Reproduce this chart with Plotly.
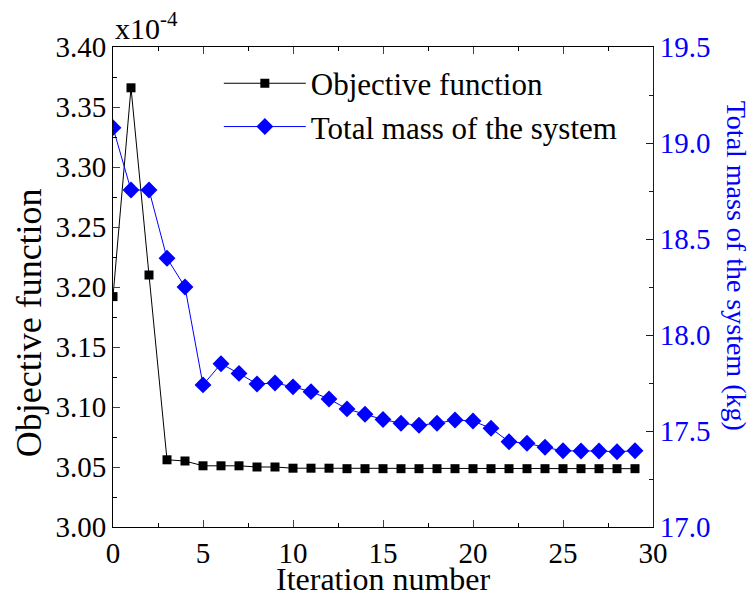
import plotly.graph_objects as go

iterations = list(range(30))
objective = [3.192, 3.366, 3.210, 3.056, 3.055, 3.051, 3.051, 3.051, 3.050, 3.050,
             3.049, 3.049, 3.049, 3.0486, 3.0486, 3.0486, 3.0486, 3.0486, 3.0486, 3.0486,
             3.0486, 3.0486, 3.0486, 3.0486, 3.0486, 3.0486, 3.0486, 3.0486, 3.0486, 3.0486]
mass = [19.08, 18.755, 18.755, 18.40, 18.25, 17.74, 17.85, 17.80, 17.745, 17.75,
        17.73, 17.705, 17.667, 17.615, 17.587, 17.56, 17.54, 17.53, 17.54, 17.557,
        17.552, 17.514, 17.444, 17.436, 17.415, 17.397, 17.396, 17.396, 17.392, 17.397]

FONT = "Liberation Serif"
BLUE = "#0000ff"
TICK = 29

fig = go.Figure()
fig.add_trace(go.Scatter(x=iterations, y=objective, name="Objective function",
                         mode="lines+markers", line=dict(color="black", width=1),
                         marker=dict(symbol="square", size=9, color="black")))
fig.add_trace(go.Scatter(x=iterations, y=mass, name="Total mass of the system",
                         mode="lines+markers", yaxis="y2", line=dict(color=BLUE, width=1),
                         marker=dict(symbol="diamond", size=13, color=BLUE)))

fig.update_layout(
    width=755, height=597,
    margin=dict(l=113, r=102, t=47, b=70),
    plot_bgcolor="white", paper_bgcolor="white",
    font=dict(family=FONT, size=TICK, color="black"),
    showlegend=True,
    legend=dict(x=0.196, y=0.98, xanchor="left", yanchor="top", bgcolor="rgba(0,0,0,0)",
                font=dict(family=FONT, size=31), itemwidth=82, tracegroupgap=0),
    xaxis=dict(range=[0, 30], dtick=5, tick0=0, ticks="inside", ticklen=7, tickwidth=1,
               showline=True, linecolor="black", linewidth=1, mirror="ticks",
               showgrid=False, zeroline=False,
               minor=dict(dtick=2.5, ticks="inside", ticklen=4, tickcolor="black"),
               tickfont=dict(size=TICK)),
    yaxis=dict(range=[3.0, 3.4], dtick=0.05, tick0=3.0, tickformat=".2f",
               ticks="inside", ticklen=7, tickwidth=1,
               showline=True, linecolor="black", linewidth=1,
               showgrid=False, zeroline=False,
               minor=dict(dtick=0.025, ticks="inside", ticklen=4, tickcolor="black"),
               tickfont=dict(size=TICK)),
    yaxis2=dict(range=[17.0, 19.5], dtick=0.5, tick0=17.0, tickformat=".1f",
                overlaying="y", side="right", color=BLUE,
                ticks="inside", ticklen=7, tickwidth=1, tickcolor=BLUE,
                showline=True, linecolor=BLUE, linewidth=1,
                showgrid=False, zeroline=False,
                minor=dict(dtick=0.25, ticks="inside", ticklen=4, tickcolor=BLUE),
                tickfont=dict(size=TICK, color=BLUE)),
    annotations=[
        dict(text="x10<sup>-4</sup>", xref="paper", yref="paper", x=0, y=1.0,
             xanchor="left", yanchor="bottom", showarrow=False,
             font=dict(family=FONT, size=30)),
        dict(text="Objective function", xref="paper", yref="paper", x=-0.155, y=0.425,
             xanchor="center", yanchor="middle", textangle=-90, showarrow=False,
             font=dict(family=FONT, size=36)),
        dict(text="Total mass of the system (kg)", xref="paper", yref="paper", x=1.155, y=0.545,
             xanchor="center", yanchor="middle", textangle=90, showarrow=False,
             font=dict(family=FONT, size=28, color=BLUE)),
        dict(text="Iteration number", xref="paper", yref="paper", x=0.5, y=-0.109,
             xanchor="center", yanchor="middle", showarrow=False,
             font=dict(family=FONT, size=32)),
    ],
)

fig.write_html("out.html")
